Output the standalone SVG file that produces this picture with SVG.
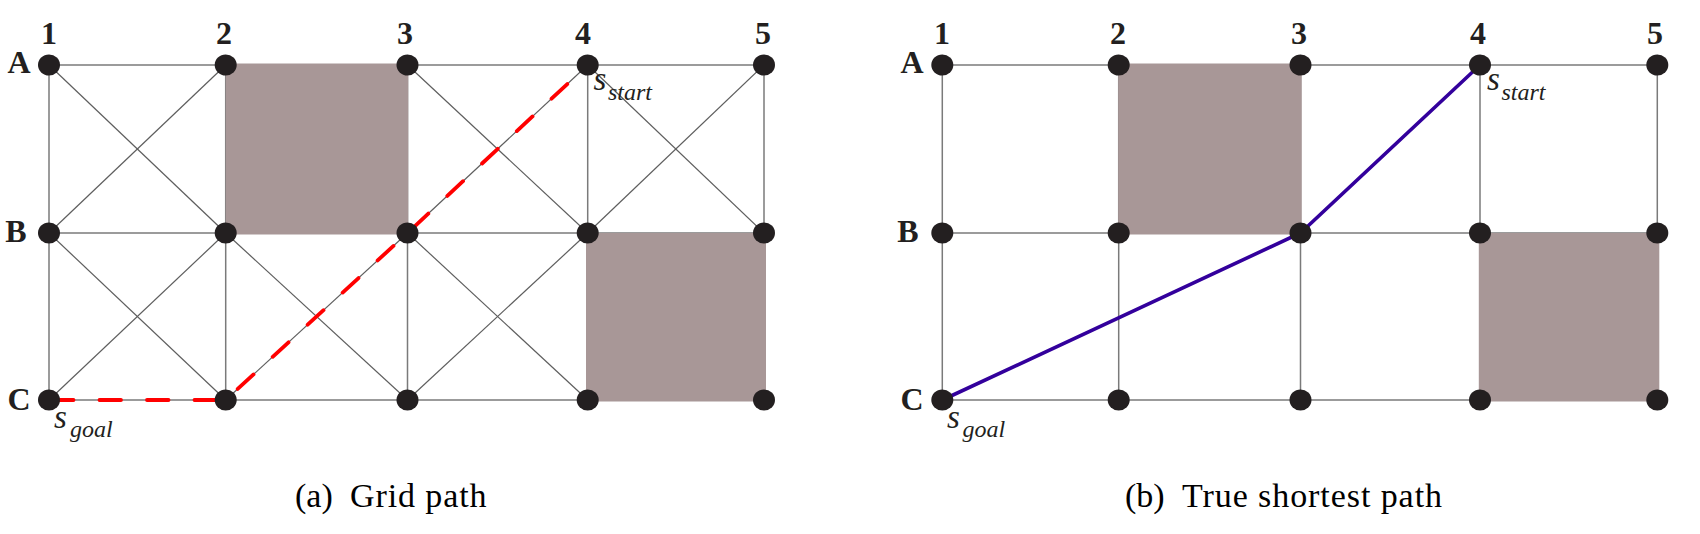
<svg xmlns="http://www.w3.org/2000/svg" width="1700" height="534" viewBox="0 0 1700 534">
<style>
.e{stroke:#7a7a7a;stroke-width:1.5;fill:none}
.d{stroke:#5e5e5e;stroke-width:1.2;fill:none}
.obs{fill:#a89797}
.n{fill:#231f20}
.lab{font-family:"Liberation Serif",serif;font-weight:bold;font-size:32px;fill:#231f20;text-anchor:middle}
.s{font-family:"Liberation Serif",serif;font-style:italic;fill:#231f20}
.cap{font-family:"Liberation Serif",serif;font-size:34px;fill:#000}
</style>
<defs>
<ellipse id="dot" rx="11" ry="10.5"/>
</defs>
<g id="connectors">
<g id="grid-a-lines">
<line class="e" x1="49" y1="65" x2="764" y2="65"/>
<line class="e" x1="49" y1="233" x2="764" y2="233"/>
<line class="e" x1="49" y1="400" x2="764" y2="400"/>
<line class="e" x1="49" y1="65" x2="49" y2="400"/>
<line class="e" x1="225.7" y1="65" x2="225.7" y2="400"/>
<line class="e" x1="407.5" y1="65" x2="407.5" y2="400"/>
<line class="e" x1="587.7" y1="65" x2="587.7" y2="400"/>
<line class="e" x1="764" y1="65" x2="764" y2="400"/>
<line class="d" x1="49" y1="65" x2="225.7" y2="233"/>
<line class="d" x1="225.7" y1="65" x2="49" y2="233"/>
<line class="d" x1="407.5" y1="65" x2="587.7" y2="233"/>
<line class="d" x1="587.7" y1="65" x2="407.5" y2="233"/>
<line class="d" x1="587.7" y1="65" x2="764" y2="233"/>
<line class="d" x1="764" y1="65" x2="587.7" y2="233"/>
<line class="d" x1="49" y1="233" x2="225.7" y2="400"/>
<line class="d" x1="225.7" y1="233" x2="49" y2="400"/>
<line class="d" x1="225.7" y1="233" x2="407.5" y2="400"/>
<line class="d" x1="407.5" y1="233" x2="225.7" y2="400"/>
<line class="d" x1="407.5" y1="233" x2="587.7" y2="400"/>
<line class="d" x1="587.7" y1="233" x2="407.5" y2="400"/>
</g>
<g id="grid-b-lines">
<line class="e" x1="942.3" y1="65" x2="1657.3" y2="65"/>
<line class="e" x1="942.3" y1="233" x2="1657.3" y2="233"/>
<line class="e" x1="942.3" y1="400" x2="1657.3" y2="400"/>
<line class="e" x1="942.3" y1="65" x2="942.3" y2="400"/>
<line class="e" x1="1118.7" y1="65" x2="1118.7" y2="400"/>
<line class="e" x1="1300.5" y1="65" x2="1300.5" y2="400"/>
<line class="e" x1="1480" y1="65" x2="1480" y2="400"/>
<line class="e" x1="1657.3" y1="65" x2="1657.3" y2="400"/>
</g>
</g>
<g id="obstacles">
<rect class="obs" x="225.7" y="63.5" width="182.5" height="171"/>
<rect class="obs" x="586" y="233" width="180" height="168.5"/>
<rect class="obs" x="1118.2" y="63.5" width="183.5" height="171"/>
<rect class="obs" x="1478.8" y="233" width="180.5" height="168.5"/>
</g>
<g id="paths">
<path d="M49 400 L225.7 400 L407.5 233 L587.7 65" fill="none" stroke="#ff0000" stroke-width="3.8" stroke-dasharray="21.5 26" stroke-dashoffset="-3" stroke-linecap="round"/>
<path d="M942.3 400 L1300.5 233 L1480 65" fill="none" stroke="#33009c" stroke-width="3.6"/>
</g>
<g id="nodes-a">
<use href="#dot" class="n" x="49" y="65"/><use href="#dot" class="n" x="225.7" y="65"/><use href="#dot" class="n" x="407.5" y="65"/><use href="#dot" class="n" x="587.7" y="65"/><use href="#dot" class="n" x="764" y="65"/>
<use href="#dot" class="n" x="49" y="233"/><use href="#dot" class="n" x="225.7" y="233"/><use href="#dot" class="n" x="407.5" y="233"/><use href="#dot" class="n" x="587.7" y="233"/><use href="#dot" class="n" x="764" y="233"/>
<use href="#dot" class="n" x="49" y="400"/><use href="#dot" class="n" x="225.7" y="400"/><use href="#dot" class="n" x="407.5" y="400"/><use href="#dot" class="n" x="587.7" y="400"/><use href="#dot" class="n" x="764" y="400"/>
</g>
<g id="nodes-b">
<use href="#dot" class="n" x="942.3" y="65"/><use href="#dot" class="n" x="1118.7" y="65"/><use href="#dot" class="n" x="1300.5" y="65"/><use href="#dot" class="n" x="1480" y="65"/><use href="#dot" class="n" x="1657.3" y="65"/>
<use href="#dot" class="n" x="942.3" y="233"/><use href="#dot" class="n" x="1118.7" y="233"/><use href="#dot" class="n" x="1300.5" y="233"/><use href="#dot" class="n" x="1480" y="233"/><use href="#dot" class="n" x="1657.3" y="233"/>
<use href="#dot" class="n" x="942.3" y="400"/><use href="#dot" class="n" x="1118.7" y="400"/><use href="#dot" class="n" x="1300.5" y="400"/><use href="#dot" class="n" x="1480" y="400"/><use href="#dot" class="n" x="1657.3" y="400"/>
</g>
<g id="labels-a">
<text class="lab" x="49" y="44">1</text><text class="lab" x="224" y="44">2</text><text class="lab" x="405" y="44">3</text><text class="lab" x="583" y="44">4</text><text class="lab" x="763" y="44">5</text>
<text class="lab" x="19" y="72.5">A</text><text class="lab" x="16" y="241.5">B</text><text class="lab" x="19" y="410">C</text>
<text class="s" x="593.5" y="90" font-size="33">s<tspan x="608" y="100" font-size="24">start</tspan></text>
<text class="s" x="54" y="428" font-size="33">s<tspan x="70" y="436.5" font-size="24">goal</tspan></text>
</g>
<g id="labels-b">
<text class="lab" x="942" y="44">1</text><text class="lab" x="1118" y="44">2</text><text class="lab" x="1299" y="44">3</text><text class="lab" x="1478" y="44">4</text><text class="lab" x="1655" y="44">5</text>
<text class="lab" x="912" y="72.5">A</text><text class="lab" x="908" y="241.5">B</text><text class="lab" x="912" y="410">C</text>
<text class="s" x="1487" y="90" font-size="33">s<tspan x="1501.5" y="100" font-size="24">start</tspan></text>
<text class="s" x="947" y="428" font-size="33">s<tspan x="962.5" y="436.5" font-size="24">goal</tspan></text>
</g>
<g id="captions">
<text class="cap" y="506.5"><tspan x="295">(a)</tspan><tspan x="350" textLength="136.5" lengthAdjust="spacing">Grid path</tspan></text>
<text class="cap" y="506.5"><tspan x="1125">(b)</tspan><tspan x="1182" textLength="260" lengthAdjust="spacing">True shortest path</tspan></text>
</g>
</svg>
